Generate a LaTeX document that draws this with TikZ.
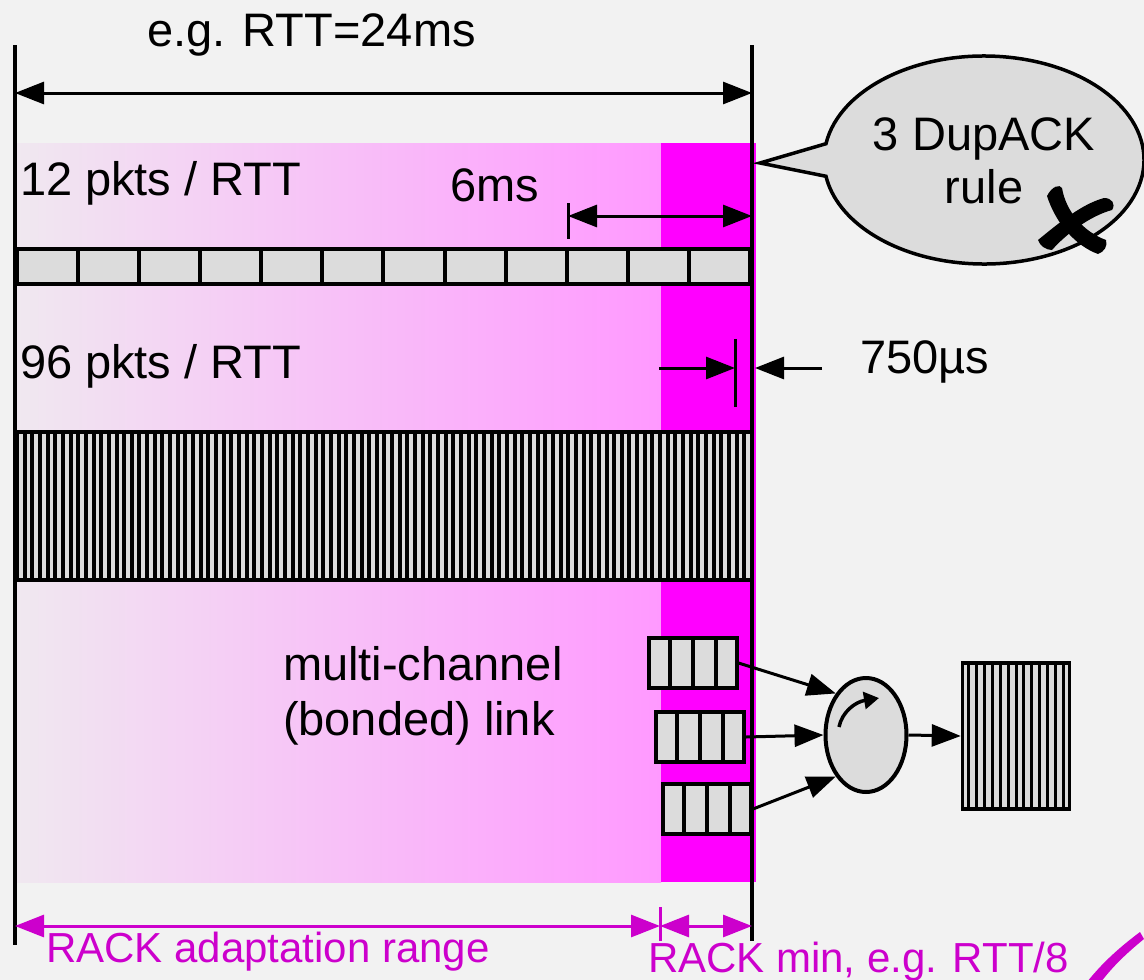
\documentclass[tikz,border=0pt]{standalone}
\usepackage{fontspec}
\setmainfont{Liberation Sans}
\usetikzlibrary{arrows.meta,shapes.geometric,calc}
\definecolor{bg}{RGB}{242,242,242}
\definecolor{pkt}{RGB}{220,220,220}
\definecolor{pinklo}{RGB}{240,232,240}
\definecolor{pinkhi}{RGB}{255,153,255}
\definecolor{mag}{RGB}{255,0,255}
\definecolor{lab}{RGB}{204,0,204}
\begin{document}
\begin{tikzpicture}[x=1pt,y=-1pt,
  txt/.style={font=\fontsize{47}{53}\selectfont, inner sep=0pt, outer sep=0pt},
  labtxt/.style={font=\fontsize{42}{48}\selectfont, text=lab, inner sep=0pt, outer sep=0pt},
  tip/.style={line width=3pt, -{Triangle[length=29pt,width=22pt]}},
  dtip/.style={line width=3pt, {Triangle[length=29pt,width=22pt]}-{Triangle[length=29pt,width=22pt]}},
  ruler/.style={line width=4pt},
  pktcell/.style={draw, fill=pkt, line width=4pt},
  grp/.style={draw, fill=pkt, line width=4pt, rectangle, inner sep=0pt, minimum width=88pt, minimum height=50pt},
  cellline/.style={line width=4pt},
]
% canvas
\fill[bg] (0,0) rectangle (1144,980);
\useasboundingbox (0,0) rectangle (1144,980);

% time window: adaptation range (gradient) and RACK minimum (solid)
\shade[left color=pinklo, right color=pinkhi] (17,143) rectangle (661,882);
\fill[mag] (661,143) rectangle (756,882);

% time axis end markers
\coordinate (t0top) at (15,45);
\coordinate (t0bot) at (15,945);
\coordinate (t1top) at (752,45);
\coordinate (t1bot) at (752,941);

% RTT span
\node[txt, anchor=base west] (rttlab) at (147,46) {e.g. RTT=24ms};
\coordinate (rttL) at (15,93);
\coordinate (rttR) at (752,93);
\draw[dtip] (rttL) -- (rttR);

% 12 packets per RTT
\node[txt, anchor=base west] (lab12) at (20,195) {12 pkts / RTT};
\foreach \i in {0,...,11}
  \draw[pktcell] ({17+\i*61.08},249) rectangle ({17+(\i+1)*61.08},284);

% 6 ms spacing
\node[txt, anchor=base west] (lab6) at (450,201) {6ms};
\coordinate (sixL) at (568,216);
\coordinate (sixR) at (752,216);
\draw[line width=3pt] (568,203) -- (568,239);
\draw[dtip] (sixL) -- (sixR);

% 96 packets per RTT
\node[txt, anchor=base west] (lab96) at (20,378) {96 pkts / RTT};
\fill[pkt] (17,432) rectangle (752,580);
\foreach \k in {1,...,95}
  \draw[line width=4pt] ({17+\k*7.656},432) -- ({17+\k*7.656},580);
\draw[line width=4pt] (17,432) rectangle (752,580);

% 750 us spacing
\coordinate (usA) at (659,368);
\coordinate (usB) at (735,368);
\coordinate (usC) at (822,368);
\coordinate (usD) at (755,368);
\draw[line width=3pt] (735,339) -- (735,407);
\draw[tip] (usA) -- (usB);
\draw[tip] (usC) -- (usD);
\node[txt, anchor=base west] (lab750) at (860,373) {750µs};

% bonded link
\node[txt, anchor=base west] (labmc) at (283,680) {multi-channel};
\node[txt, anchor=base west] (labbl) at (283,735) {(bonded) link};

\node[grp] (g1) at (692.5,663) {};
\node[grp] (g2) at (700,737) {};
\node[grp] (g3) at (707,809) {};
\foreach \g in {g1,g2,g3}
  \foreach \k in {1,2,3}
    \draw[cellline] ($(\g.north west)!\k/4!(\g.north east)$) -- ($(\g.south west)!\k/4!(\g.south east)$);

\node[ellipse, draw, fill=pkt, line width=4pt, inner sep=0pt,
      minimum width=81pt, minimum height=114pt] (rr) at (866,735) {};
\draw[line width=3.5pt, -{Triangle[length=15pt,width=17pt]}]
  (839,727) .. controls (842,712) and (855,702) .. (879,698);

\draw[tip] (g1.east) -- (rr.126);
\draw[tip] (g2.east) -- (rr.west);
\draw[tip] (g3.east) -- (rr.234);

\node[draw, fill=pkt, line width=3.5pt, rectangle, inner sep=0pt,
      minimum width=107pt, minimum height=146pt] (out) at (1016,736) {};
\foreach \k in {1,...,13}
  \draw[line width=3pt] ($(out.north west)!\k/14!(out.north east)$) -- ($(out.south west)!\k/14!(out.south east)$);
\draw[tip] (rr.east) -- (out.west);

% axis lines
\draw[ruler] (t0top) -- (t0bot);
\draw[ruler] (t1top) -- (t1bot);

% speech bubble
\coordinate (bc) at (984,160);
\filldraw[fill=pkt, line width=3.5pt]
  ($(bc)+(171:160 and 104)$) -- (760,163) -- ($(bc)+(189:160 and 104)$)
  arc[start angle=189, end angle=531, x radius=160, y radius=104] -- cycle;
\node[txt, anchor=base] (dup1) at (984,150) {3 DupACK};
\node[txt, anchor=base] (dup2) at (984,203) {rule};
% crossed out with a brush stroke
\fill (1047,196) .. controls (1052,186) and (1060,184) .. (1062,188)
  .. controls (1066,212) and (1084,232) .. (1106,240)
  .. controls (1108,246) and (1104,252) .. (1098,254)
  .. controls (1076,246) and (1056,224) .. (1047,196) -- cycle;
\fill (1104,198) .. controls (1112,198) and (1116,204) .. (1112,210)
  .. controls (1090,216) and (1066,234) .. (1052,250)
  .. controls (1046,250) and (1040,246) .. (1038,240)
  .. controls (1060,222) and (1082,204) .. (1104,198) -- cycle;

% RACK ranges
\coordinate (rkL) at (15,926);
\coordinate (rkM) at (660,926);
\coordinate (rkR) at (752,926);
\draw[dtip, draw=lab, fill=lab] (rkL) -- (rkM);
\draw[dtip, draw=lab, fill=lab] (rkM) -- (rkR);
\draw[line width=3pt, draw=lab] (660,907) -- (660,941);
\node[labtxt, anchor=base west] (labrange) at (46,962) {RACK adaptation range};
\node[labtxt, anchor=base west] (labmin) at (648,972) {RACK min, e.g. RTT/8};
% tick mark
\fill[lab] (1087,982) .. controls (1103,962) and (1120,947) .. (1140,932)
  -- (1144,939) .. controls (1128,952) and (1113,966) .. (1101,982) -- cycle;
\end{tikzpicture}
\end{document}
